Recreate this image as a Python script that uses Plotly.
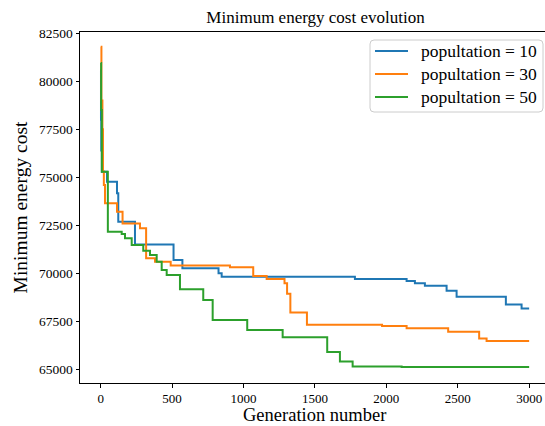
import plotly.graph_objects as go

# Generations at which the best (minimum) energy cost changed, and the new value.
gen_pop10 = [0, 2, 4, 8, 44, 114, 123, 240, 510, 572, 825, 847, 1780,
             2142, 2200, 2270, 2422, 2492, 2837, 2947, 3000]
cost_pop10 = [80600, 78000, 76400, 75290, 74770, 74170, 72690, 71500, 70690,
              70260, 70000, 69820, 69700, 69600, 69480, 69350, 69090, 68780,
              68380, 68160, 68160]

gen_pop30 = [0, 5, 12, 16, 22, 30, 114, 153, 275, 318, 380, 490, 905, 1068,
             1162, 1287, 1305, 1328, 1444, 1970, 2142, 2433, 2650, 2702, 3000]
cost_pop30 = [81800, 79000, 77500, 75300, 74600, 73650, 73210, 72600, 72340,
              70780, 70600, 70400, 70320, 69860, 69700, 69480, 68940, 67960,
              67320, 67250, 67135, 66960, 66610, 66470, 66470]

gen_pop50 = [0, 3, 8, 50, 147, 170, 217, 298, 345, 392, 427, 462, 555, 718,
             784, 1026, 1274, 1586, 1675, 1764, 2107, 3000]
cost_pop50 = [80950, 78500, 75290, 72170, 72050, 71820, 71470, 71180, 70950,
              70600, 70170, 69910, 69170, 68610, 67570, 67050, 66670, 65900,
              65400, 65140, 65120, 65120]

series_labels = ["popultation = 10", "popultation = 30", "popultation = 50"]
series_colors = ["#1f77b4", "#ff7f0e", "#2ca02c"]

y_ticks = [65000, 67500, 70000, 72500, 75000, 77500, 80000, 82500]
x_ticks = [0, 500, 1000, 1500, 2000, 2500, 3000]

FONT = "Liberation Serif"
W, H = 545, 426
M_L, M_R, M_T, M_B = 80, 0, 32, 43
PLOT_W, PLOT_H = W - M_L - M_R, H - M_T - M_B


def px_x(px):
    """Pixel column -> paper x (plot-area fraction)."""
    return (px - M_L) / PLOT_W


def px_y(py):
    """Pixel row -> paper y (plot-area fraction)."""
    return (H - M_B - py) / PLOT_H


fig = go.Figure()
for gens, costs, label, color in zip(
        [gen_pop10, gen_pop30, gen_pop50],
        [cost_pop10, cost_pop30, cost_pop50],
        series_labels, series_colors):
    fig.add_trace(go.Scatter(
        x=gens, y=costs, mode="lines", name=label,
        line=dict(color=color, width=2, shape="hv"),
    ))

# Legend box with rounded corners, drawn as a path in pixel-derived paper coords
bx0, bx1, by0, by1, rad = 370, 543, 40, 112, 4
path = (
    f"M {px_x(bx0 + rad)} {px_y(by0)} L {px_x(bx1 - rad)} {px_y(by0)} "
    f"Q {px_x(bx1)} {px_y(by0)} {px_x(bx1)} {px_y(by0 + rad)} "
    f"L {px_x(bx1)} {px_y(by1 - rad)} "
    f"Q {px_x(bx1)} {px_y(by1)} {px_x(bx1 - rad)} {px_y(by1)} "
    f"L {px_x(bx0 + rad)} {px_y(by1)} "
    f"Q {px_x(bx0)} {px_y(by1)} {px_x(bx0)} {px_y(by1 - rad)} "
    f"L {px_x(bx0)} {px_y(by0 + rad)} "
    f"Q {px_x(bx0)} {px_y(by0)} {px_x(bx0 + rad)} {px_y(by0)} Z"
)
shapes = [dict(type="path", xref="paper", yref="paper", path=path,
               fillcolor="rgba(255,255,255,0.8)", line=dict(color="#cccccc", width=1),
               layer="above")]
annotations = []
row_y = [51, 74, 97]
for label, color, ry in zip(series_labels, series_colors, row_y):
    shapes.append(dict(type="line", xref="paper", yref="paper",
                       x0=px_x(375), x1=px_x(408), y0=px_y(ry), y1=px_y(ry),
                       line=dict(color=color, width=2), layer="above"))
    annotations.append(dict(text=label, xref="paper", yref="paper",
                            x=px_x(419), y=px_y(ry), xanchor="left", yanchor="middle",
                            showarrow=False, font=dict(size=17.5, family=FONT, color="black")))

# x-axis title placed below the tick labels, centred under the axes
annotations.append(dict(text="Generation number", xref="paper", yref="paper",
                        x=px_x(314), y=px_y(426), xanchor="center", yanchor="bottom",
                        borderpad=0, showarrow=False,
                        font=dict(size=18.5, family=FONT, color="black")))

fig.update_layout(
    width=W, height=H,
    margin=dict(l=M_L, r=M_R, t=M_T, b=M_B, autoexpand=False),
    paper_bgcolor="white", plot_bgcolor="white",
    font=dict(family=FONT, color="black", size=13.5),
    title=dict(text="Minimum energy cost evolution", x=315.5 / W, xanchor="center",
               y=1 - 17 / H, yanchor="middle", font=dict(size=17, family=FONT)),
    showlegend=False,
    shapes=shapes,
    annotations=annotations,
)

fig.update_xaxes(
    range=[-145, 3111], tickvals=x_ticks, ticktext=[str(v) for v in x_ticks],
    tickfont=dict(family=FONT, size=13, color="black"),
    showline=True, linecolor="black", linewidth=1, mirror=True,
    ticks="outside", ticklen=3.5, tickwidth=1, tickcolor="black",
    showgrid=False, zeroline=False, automargin=False,
)
fig.update_yaxes(
    range=[64286, 82568], tickvals=y_ticks, ticktext=[str(v) for v in y_ticks],
    tickfont=dict(family=FONT, size=13.5, color="black"),
    showline=True, linecolor="black", linewidth=1, mirror=False,
    ticks="outside", ticklen=3.5, tickwidth=1, tickcolor="black",
    showgrid=False, zeroline=False, automargin=False,
    title=dict(text="Minimum energy cost", font=dict(size=19.5, family=FONT), standoff=6),
)

fig.write_html("out.html")
